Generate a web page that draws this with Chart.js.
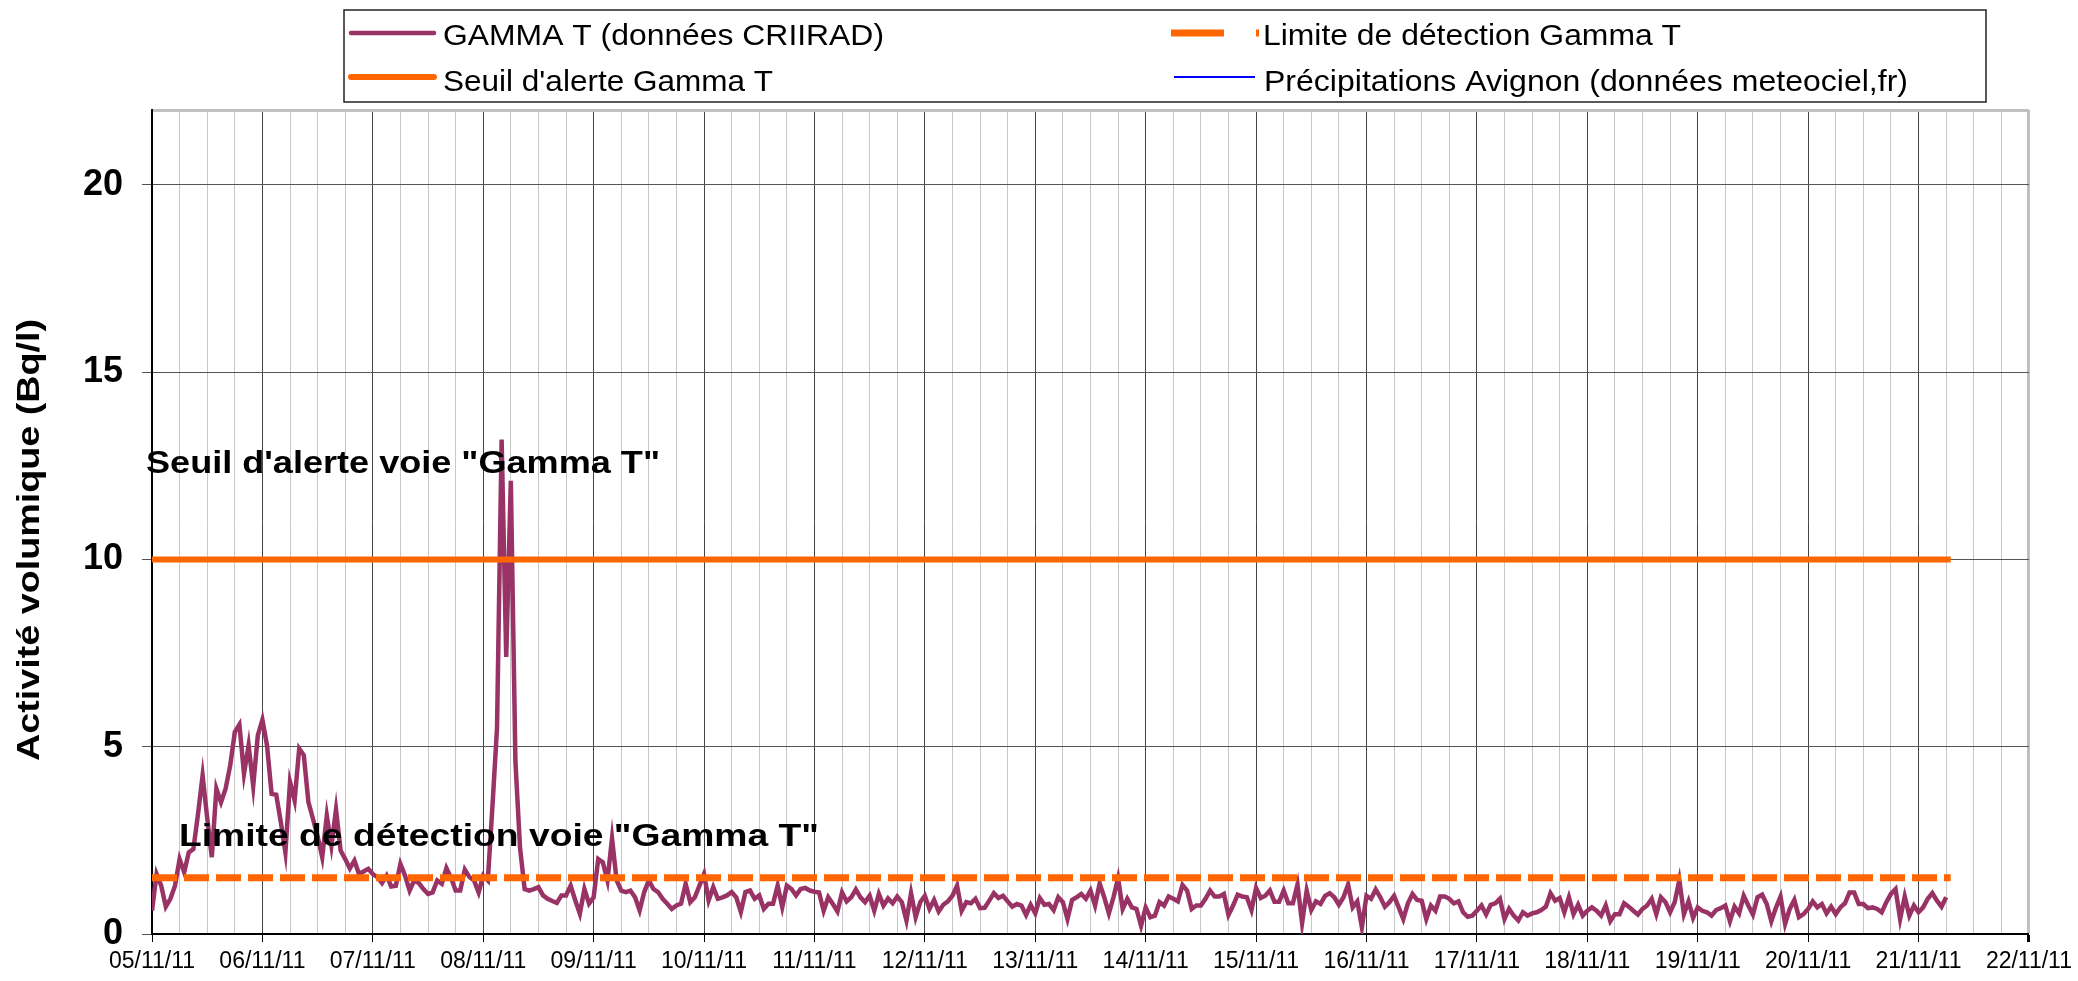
<!DOCTYPE html>
<html lang="fr">
<head>
<meta charset="utf-8">
<title>GAMMA T - Activité volumique</title>
<script src="https://cdn.jsdelivr.net/npm/chart.js@4.4.1/dist/chart.umd.min.js"></script>
<style>
  html, body { margin: 0; padding: 0; background: #fff; }
  #wrap { position: relative; width: 2078px; height: 981px; }
</style>
</head>
<body>
<div id="wrap"><canvas id="gammaChart"></canvas></div>
<script>
// Day labels of the time axis (one per day, 05/11/11 -> 22/11/11)
const dayLabels = ['05/11/11', '06/11/11', '07/11/11', '08/11/11', '09/11/11', '10/11/11',
  '11/11/11', '12/11/11', '13/11/11', '14/11/11', '15/11/11', '16/11/11', '17/11/11',
  '18/11/11', '19/11/11', '20/11/11', '21/11/11', '22/11/11'];

// GAMMA T hourly readings (Bq/l), one array per day, starting at 00:00
const gamma_05_11 = [0.62, 1.6, 1.29, 0.73, 0.94, 1.29, 2.0, 1.65, 2.18, 2.27, 3.2, 4.23, 3.1, 2.05, 3.88, 3.52, 3.88, 4.5, 5.39, 5.59, 4.28, 5.04, 3.95, 5.3];
const gamma_06_11 = [5.72, 5.04, 3.74, 3.72, 2.99, 2.18, 4.06, 3.57, 4.95, 4.77, 3.52, 3.07, 2.6, 2.05, 3.16, 2.36, 3.32, 2.23, 2.0, 1.75, 1.96, 1.6, 1.67, 1.74];
const gamma_07_11 = [1.6, 1.52, 1.36, 1.56, 1.27, 1.29, 1.87, 1.56, 1.16, 1.43, 1.36, 1.2, 1.07, 1.11, 1.43, 1.34, 1.76, 1.5, 1.16, 1.16, 1.72, 1.52, 1.43, 1.11];
const gamma_08_11 = [1.56, 1.43, 3.4, 5.5, 13.2, 7.4, 12.1, 4.6, 2.3, 1.2, 1.16, 1.2, 1.25, 1.03, 0.94, 0.88, 0.83, 1.03, 1.03, 1.29, 0.9, 0.54, 1.2, 0.81];
const gamma_09_11 = [0.98, 2.0, 1.91, 1.43, 2.55, 1.43, 1.16, 1.12, 1.16, 0.98, 0.63, 1.12, 1.43, 1.2, 1.12, 0.94, 0.81, 0.67, 0.76, 0.81, 1.34, 0.85, 0.98, 1.29];
const gamma_10_11 = [1.6, 0.9, 1.25, 0.94, 0.98, 1.03, 1.12, 0.98, 0.59, 1.12, 1.16, 0.94, 1.03, 0.67, 0.81, 0.81, 1.29, 0.72, 1.29, 1.2, 1.03, 1.2, 1.23, 1.16];
const gamma_11_11 = [1.13, 1.11, 0.62, 0.98, 0.8, 0.6, 1.11, 0.87, 0.98, 1.19, 0.98, 0.85, 1.02, 0.62, 1.07, 0.76, 0.95, 0.82, 1.0, 0.85, 0.36, 1.09, 0.45, 0.85];
const gamma_12_11 = [1.02, 0.67, 0.91, 0.6, 0.78, 0.87, 1.02, 1.29, 0.62, 0.85, 0.82, 0.94, 0.69, 0.7, 0.89, 1.09, 0.96, 1.02, 0.87, 0.73, 0.8, 0.76, 0.51, 0.78];
const gamma_13_11 = [0.55, 0.96, 0.78, 0.8, 0.64, 0.98, 0.85, 0.4, 0.91, 0.98, 1.07, 0.94, 1.16, 0.76, 1.35, 0.98, 0.55, 0.98, 1.49, 0.67, 0.94, 0.71, 0.67, 0.22];
const gamma_14_11 = [0.71, 0.45, 0.49, 0.85, 0.76, 1.0, 0.94, 0.87, 1.31, 1.16, 0.67, 0.76, 0.76, 0.94, 1.16, 1.0, 1.0, 1.07, 0.51, 0.76, 1.05, 1.0, 0.98, 0.64];
const gamma_15_11 = [1.23, 0.96, 1.02, 1.16, 0.86, 0.86, 1.16, 0.82, 0.82, 1.32, 0.29, 1.16, 0.64, 0.87, 0.8, 1.02, 1.09, 0.98, 0.78, 0.98, 1.32, 0.71, 0.87, 0.18];
const gamma_16_11 = [1.02, 0.94, 1.19, 0.98, 0.73, 0.85, 1.02, 0.71, 0.4, 0.82, 1.07, 0.91, 0.89, 0.4, 0.76, 0.62, 1.0, 1.0, 0.94, 0.82, 0.87, 0.58, 0.46, 0.49];
const gamma_17_11 = [0.62, 0.76, 0.52, 0.78, 0.82, 0.94, 0.4, 0.67, 0.49, 0.36, 0.58, 0.49, 0.55, 0.58, 0.64, 0.73, 1.09, 0.89, 0.96, 0.58, 0.98, 0.53, 0.78, 0.49];
const gamma_18_11 = [0.62, 0.71, 0.62, 0.49, 0.76, 0.34, 0.53, 0.53, 0.82, 0.73, 0.62, 0.52, 0.67, 0.76, 0.94, 0.53, 0.98, 0.85, 0.58, 0.85, 1.44, 0.53, 0.87, 0.43];
const gamma_19_11 = [0.71, 0.62, 0.58, 0.49, 0.64, 0.69, 0.76, 0.34, 0.73, 0.55, 1.02, 0.76, 0.52, 0.98, 1.05, 0.8, 0.34, 0.7, 1.0, 0.27, 0.67, 0.91, 0.45, 0.53];
const gamma_20_11 = [0.67, 0.87, 0.71, 0.8, 0.55, 0.73, 0.53, 0.71, 0.82, 1.11, 1.11, 0.8, 0.8, 0.69, 0.71, 0.67, 0.58, 0.85, 1.07, 1.2, 0.4, 1.0, 0.49, 0.76];
const gamma_21_11 = [0.58, 0.71, 0.94, 1.09, 0.89, 0.73, 0.98];

// Thresholds (Bq/l) and the hours they span
const seuilAlerte = 10;
const limiteDetection = 1.5;
const thresholdHours = [0, 391];

// Précipitations Avignon: nothing visible on the chart
const precipValues = [];

const Y_TICKS = [0, 5, 10, 15, 20];
const Y_MAX = 22;

const gammaHourly = [].concat(gamma_05_11, gamma_06_11, gamma_07_11, gamma_08_11, gamma_09_11,
  gamma_10_11, gamma_11_11, gamma_12_11, gamma_13_11, gamma_14_11, gamma_15_11, gamma_16_11,
  gamma_17_11, gamma_18_11, gamma_19_11, gamma_20_11, gamma_21_11);

const FONT = "'Liberation Sans', Arial, sans-serif";
const X_MAX = (dayLabels.length - 1) * 24;

// draws text squeezed/stretched to a given width (the original fonts are stretched)
function drawFitted(ctx, text, x, y, width, font) {
  ctx.save();
  ctx.font = font;
  const natural = ctx.measureText(text).width;
  ctx.translate(x, y);
  ctx.scale(width / natural, 1);
  ctx.textAlign = 'left';
  ctx.fillText(text, 0, 0);
  ctx.restore();
}

const decorPlugin = {
  id: 'decor',
  afterDatasetsDraw(chart) {
    const ctx = chart.ctx;
    const y = chart.scales.y;
    const area = chart.chartArea;
    ctx.save();
    ctx.fillStyle = '#000';
    ctx.textBaseline = 'alphabetic';
    drawFitted(ctx, 'Seuil d\'alerte voie "Gamma T"', area.left - 6, y.getPixelForValue(12.3), 514, 'bold 32px ' + FONT);
    drawFitted(ctx, 'Limite de détection voie "Gamma T"', area.left + 27, y.getPixelForValue(2.34), 640, 'bold 32px ' + FONT);
    ctx.restore();
  },
  afterDraw(chart) {
    const ctx = chart.ctx;
    const ds = chart.data.datasets;
    ctx.save();

    // y axis title, rotated
    ctx.save();
    ctx.translate(30, 540);
    ctx.rotate(-Math.PI / 2);
    ctx.font = 'bold 31px ' + FONT;
    const t = 'Activité volumique (Bq/l)';
    const w = ctx.measureText(t).width;
    ctx.scale(442 / w, 1);
    ctx.fillStyle = '#000';
    ctx.textAlign = 'center';
    ctx.textBaseline = 'middle';
    ctx.fillText(t, 0, 0);
    ctx.restore();

    // legend box
    ctx.fillStyle = '#fff';
    ctx.fillRect(344, 10, 1642, 92);
    ctx.strokeStyle = '#222';
    ctx.lineWidth = 1.5;
    ctx.strokeRect(344, 10, 1642, 92);

    const items = [
      { d: ds[0], x0: 351, x1: 434, ly: 33, tx: 443, ty: 45, tw: 441, cap: 'round' },
      { d: ds[2], x0: 351, x1: 434, ly: 77, tx: 443, ty: 91, tw: 330, cap: 'round' },
      { d: ds[1], x0: 1171, x1: 1259, ly: 33, tx: 1263, ty: 45, tw: 418, cap: 'butt', dash: [53, 32] },
      { d: ds[3], x0: 1174, x1: 1255, ly: 77, tx: 1264, ty: 91, tw: 644, cap: 'butt' }
    ];
    items.forEach(it => {
      ctx.save();
      ctx.strokeStyle = it.d.borderColor;
      ctx.lineWidth = it.d.legendWidth;
      ctx.lineCap = it.cap;
      ctx.setLineDash(it.dash || []);
      ctx.beginPath();
      ctx.moveTo(it.x0, it.ly);
      ctx.lineTo(it.x1, it.ly);
      ctx.stroke();
      ctx.restore();
      ctx.fillStyle = '#000';
      drawFitted(ctx, it.d.label, it.tx, it.ty, it.tw, '29px ' + FONT);
    });
    ctx.restore();
  }
};

const ctx = document.getElementById('gammaChart');
new Chart(ctx, {
  type: 'line',
  data: {
    datasets: [
      {
        label: 'GAMMA T (données CRIIRAD)',
        data: gammaHourly.map((v, i) => ({ x: i, y: v })),
        borderColor: '#993366',
        borderWidth: 4.5,
        legendWidth: 4.5,
        pointRadius: 0,
        tension: 0,
        order: 3
      },
      {
        label: 'Limite de détection Gamma T',
        data: thresholdHours.map(h => ({ x: h, y: limiteDetection })),
        borderColor: '#FF6600',
        borderWidth: 7,
        legendWidth: 7,
        borderDash: [25, 7],
        pointRadius: 0,
        order: 1
      },
      {
        label: 'Seuil d\'alerte Gamma T',
        data: thresholdHours.map(h => ({ x: h, y: seuilAlerte })),
        borderColor: '#FF6600',
        borderWidth: 6,
        legendWidth: 6,
        pointRadius: 0,
        order: 2
      },
      {
        label: 'Précipitations Avignon (données meteociel,fr)',
        data: precipValues,
        borderColor: '#0000FF',
        borderWidth: 2,
        legendWidth: 2,
        pointRadius: 0,
        order: 0
      }
    ]
  },
  options: {
    responsive: true,
    maintainAspectRatio: false,
    animation: false,
    devicePixelRatio: 1,
    layout: { padding: { top: 110, right: 48, left: 0, bottom: 0 } },
    plugins: {
      legend: { display: false },
      title: { display: false },
      tooltip: { enabled: false }
    },
    scales: {
      x: {
        type: 'linear',
        min: 0,
        max: X_MAX,
        afterBuildTicks: scale => {
          const ticks = [];
          for (let h = 0; h <= X_MAX; h += 6) ticks.push({ value: h });
          scale.ticks = ticks;
        },
        afterFit: scale => { scale.height = 47; },
        ticks: {
          autoSkip: false,
          maxRotation: 0,
          minRotation: 0,
          padding: 6,
          color: '#000',
          font: { family: FONT, size: 23 },
          callback: v => (v % 24 === 0 ? dayLabels[v / 24] : '')
        },
        grid: {
          color: c => {
            const v = c.tick.value;
            if (v === X_MAX) return '#c0c0c0';
            return v % 24 === 0 ? '#444' : '#c8c8c8';
          },
          lineWidth: c => (c.tick.value === X_MAX ? 3 : 1),
          tickLength: 8,
          tickColor: c => (c.tick.value % 24 === 0 ? '#000' : 'rgba(0,0,0,0)')
        },
        border: { display: true, color: '#000', width: 2 }
      },
      y: {
        min: 0,
        max: Y_MAX,
        afterBuildTicks: scale => {
          scale.ticks = Y_TICKS.concat([Y_MAX]).map(v => ({ value: v }));
        },
        afterFit: scale => { scale.width = 152; },
        ticks: {
          padding: 19,
          color: '#000',
          font: { family: FONT, size: 36, weight: 'bold' },
          callback: v => (v === Y_MAX ? '' : v)
        },
        grid: {
          color: c => (c.tick.value === Y_MAX ? '#c0c0c0' : '#555'),
          lineWidth: c => (c.tick.value === Y_MAX ? 3 : 1),
          tickLength: 10,
          tickColor: c => (c.tick.value === Y_MAX ? 'rgba(0,0,0,0)' : '#555')
        },
        border: { display: true, color: '#000', width: 2 }
      }
    }
  },
  plugins: [decorPlugin]
});
</script>
</body>
</html>
